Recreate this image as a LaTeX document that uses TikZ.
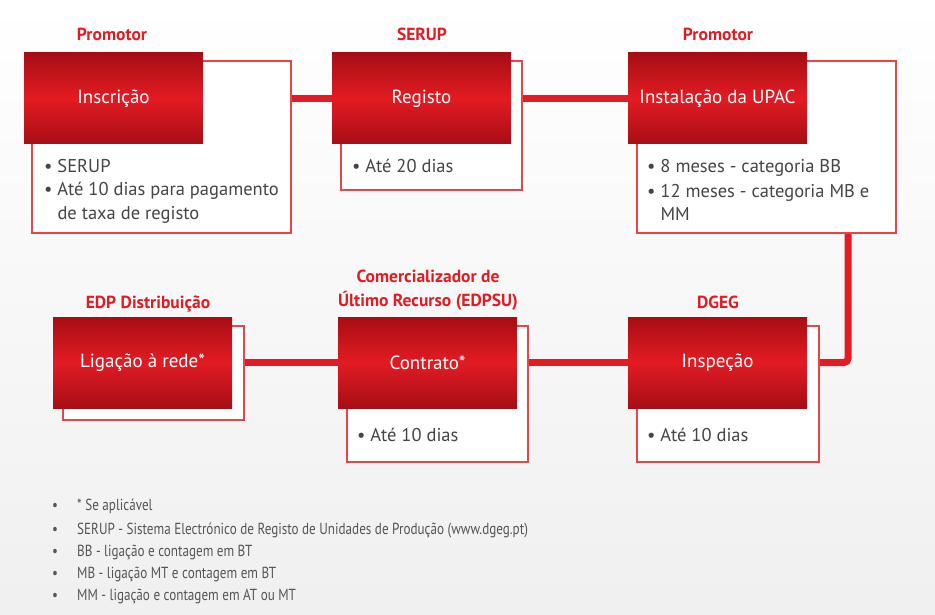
\documentclass[tikz,border=0pt]{standalone}
\usepackage{fontspec}
\setmainfont{PT Sans}
\newfontfamily\legendfont[FakeStretch=0.82]{PT Sans}
\usetikzlibrary{calc}
\pgfdeclarelayer{bg}
\pgfdeclarelayer{links}
\pgfsetlayers{bg,links,main}
\definecolor{edpred}{HTML}{E31B23}
\definecolor{edpdark}{HTML}{A60E14}
\definecolor{edpline}{HTML}{E8454B}
\definecolor{bodygray}{HTML}{454545}
\definecolor{leggray}{HTML}{555555}
\tikzset{
  redbox/.style={draw=none, top color=edpdark, bottom color=edpdark, middle color=edpred,
    minimum width=179pt, minimum height=91pt, anchor=north west, inner sep=0pt, outer sep=0pt,
    text=white, font=\fontsize{19}{22}\selectfont},
  whitebox/.style={draw=edpline, line width=1.3pt, fill=white, anchor=north west, inner sep=0pt, outer sep=0pt},
  who/.style={text=edpred, font=\bfseries\fontsize{17.5}{20}\selectfont, anchor=base, inner sep=0pt},
  bul/.style={text=bodygray, font=\fontsize{18.5}{21}\selectfont, anchor=base west, inner sep=0pt},
  leg/.style={text=leggray, font=\legendfont\fontsize{16}{18}\selectfont, anchor=base west, inner sep=0pt},
  conn/.style={draw=edpred, line width=7pt, rounded corners=4pt},
}
\begin{document}
\begin{tikzpicture}[x=1pt,y=-1pt]
\begin{pgfonlayer}{bg}
\shade[top color=white, bottom color=black!6] (0,0) rectangle (935,615);
\end{pgfonlayer}
\useasboundingbox (0,0) rectangle (935,615);
% top row
\node[whitebox, minimum width=259pt, minimum height=172pt] (w1) at (32,61) {};
\node[redbox] (r1) at (24,53) {Inscrição};
\node[whitebox, minimum width=181pt, minimum height=129pt] (w2) at (341,61) {};
\node[redbox] (r2) at (332,53) {Registo};
\node[whitebox, minimum width=259pt, minimum height=172pt] (w3) at (637,61) {};
\node[redbox] (r3) at (628,53) {Instalação da UPAC};
% bottom row
\node[whitebox, minimum width=181pt, minimum height=94pt] (w4) at (63,326) {};
\node[redbox] (r4) at (53,317) {Ligação à rede*};
\node[whitebox, minimum width=181pt, minimum height=136pt] (w5) at (347,326) {};
\node[redbox] (r5) at (338,317) {Contrato*};
\node[whitebox, minimum width=182pt, minimum height=136pt] (w6) at (637,326) {};
\node[redbox] (r6) at (628,317) {Inspeção};
% connectors
\begin{pgfonlayer}{links}
\draw[conn] (r1) -- (r2);
\draw[conn] (r2) -- (r3);
\draw[conn] ($(w3.south east)+(-48,-2)$) |- (r6);
\draw[conn] (r6) -- (r5);
\draw[conn] (r5) -- (r4);
\end{pgfonlayer}
% actor labels
\node[who] (l1) at (112,40.5) {Promotor};
\node[who] (l2) at (422,40.5) {SERUP};
\node[who] (l3) at (718,40.5) {Promotor};
\node[who] (l4) at (148,308.5) {EDP Distribuição};
\node[who] (l5a) at (428,282.5) {Comercializador de};
\node[who] (l5b) at (428,306.5) {Último Recurso (EDPSU)};
\node[who] (l6) at (718,308.5) {DGEG};
% bullets
\node[bul] (b1a) at (44,172) {• SERUP};
\node[bul] (b1b) at (44,196) {• Até 10 dias para pagamento};
\node[bul] (b1c) at (44,219) {\phantom{• }de taxa de registo};
\node[bul] (b2a) at (352,173) {• Até 20 dias};
\node[bul] (b3a) at (647,173) {• 8 meses - categoria BB};
\node[bul] (b3b) at (647,197) {• 12 meses - categoria MB e};
\node[bul] (b3c) at (647,220) {\phantom{• }MM};
\node[bul] (b5a) at (357,441) {• Até 10 dias};
\node[bul] (b6a) at (647,441) {• Até 10 dias};
% legend
\foreach \yy/\tt [count=\i] in {510/{* Se aplicável},
  534/{SERUP - Sistema Electrónico de Registo de Unidades de Produção (www.dgeg.pt)},
  556/{BB - ligação e contagem em BT},
  578/{MB - ligação MT e contagem em BT},
  600/{MM - ligação e contagem em AT ou MT}}{
  \node[leg] (d\i) at (52,\yy) {•};
  \node[leg] (e\i) at (77,\yy) {\tt};
}
\end{tikzpicture}
\end{document}
